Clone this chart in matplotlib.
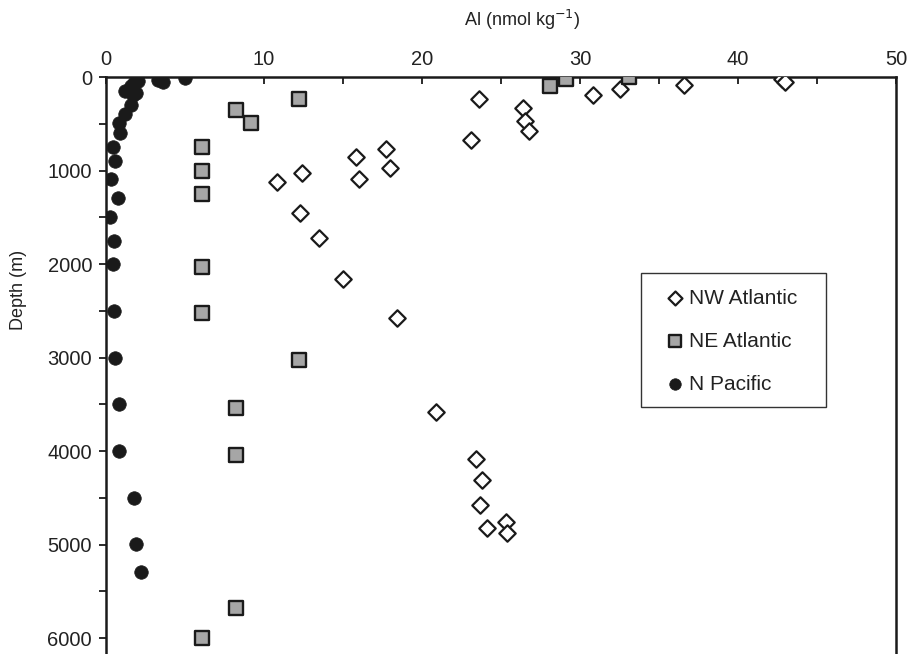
import matplotlib.pyplot as plt
import numpy as np
from matplotlib.patches import Rectangle

plt.rcParams['font.family'] = ['Liberation Sans', 'DejaVu Sans']

# NW Atlantic (open diamonds)
nw_al = [42.8, 43.0, 36.6, 32.5, 30.8, 23.6, 26.4, 26.5, 26.8, 23.1, 17.7,
         15.8, 18.0, 16.0, 12.4, 10.8, 12.3, 13.5, 15.0, 18.4, 20.9, 23.4,
         23.8, 23.7, 24.1, 25.3, 25.4]
nw_depth = [21, 53, 86, 128, 193, 235, 332, 470, 578, 674, 770,
            856, 973, 1091, 1027, 1120, 1455, 1722, 2160, 2578, 3583, 4086,
            4310, 4578, 4823, 4760, 4877]

# NE Atlantic (grey squares)
ne_al = [33.1, 29.1, 28.1, 12.2, 8.2, 9.2, 6.1, 6.1, 6.1, 6.1, 6.1,
         12.2, 8.2, 8.2, 8.2, 6.1]
ne_depth = [5, 21, 96, 238, 353, 494, 746, 1005, 1251, 2032, 2524,
            3027, 3540, 4043, 5679, 6000]

# N Pacific (filled circles)
np_al = [5.0, 3.3, 3.6, 1.8, 2.0, 1.6, 1.2, 1.9, 1.7, 1.6, 1.2, 0.8, 0.9,
         0.45, 0.6, 0.3, 0.75, 0.25, 0.5, 0.45, 0.5, 0.6, 0.8, 0.8, 1.8,
         1.9, 2.2]
np_depth = [10, 30, 50, 64, 40, 100, 150, 170, 193, 300, 400, 494, 600,
            746, 900, 1090, 1290, 1497, 1750, 2000, 2500, 3005, 3500, 4000,
            4500, 4995, 5294]

fig = plt.figure(figsize=(9.11, 6.54), dpi=100)
ax = fig.add_axes([106/911, 0.0, 790/911, 577/654])

ax.scatter(nw_al, nw_depth, marker='D', s=70, facecolor='white',
           edgecolor='#1a1a1a', linewidth=1.6, label='NW Atlantic', zorder=3)
ax.scatter(ne_al, ne_depth, marker='s', s=100, facecolor='#a6a6a6',
           edgecolor='#1a1a1a', linewidth=1.7, label='NE Atlantic', zorder=3)
ax.scatter(np_al, np_depth, marker='o', s=95, facecolor='#1a1a1a',
           edgecolor='#1a1a1a', linewidth=0.5, label='N Pacific', zorder=4)

ax.set_xlim(0, 50)
ax.set_ylim(6170, 0)

ax.xaxis.tick_top()
ax.xaxis.set_label_position('top')
ax.set_xticks(np.arange(0, 51, 10))
ax.set_xticks(np.arange(5, 50, 10), minor=True)
ax.tick_params(axis='x', which='both', direction='in', length=5, width=1.3,
               labelsize=14.5, pad=6, colors='#1a1a1a', labelcolor='#222222')
ax.set_yticks(np.arange(0, 6001, 1000))
ax.set_yticks(np.arange(500, 6001, 1000), minor=True)
ax.tick_params(axis='y', which='both', direction='out', length=5, width=1.3,
               labelsize=14.5, pad=5, colors='#1a1a1a', labelcolor='#222222')

for side in ['top', 'left', 'right']:
    ax.spines[side].set_linewidth(1.8)
    ax.spines[side].set_color('#1a1a1a')
ax.spines['bottom'].set_visible(False)

ax.set_xlabel('Al (nmol kg$^{-1}$)', fontsize=13, color='#222222')
ax.xaxis.set_label_coords(0.527, 1.088)
ax.set_ylabel('Depth (m)', fontsize=13, color='#222222')
ax.yaxis.set_label_coords(-0.100, 0.631)

# legend box (Excel-style, wider than its contents)
ax.add_patch(Rectangle((0.677, 0.428), 0.234, 0.232, transform=ax.transAxes,
                       facecolor='white', edgecolor='#333333', linewidth=1.0,
                       zorder=5))
leg = ax.legend(loc='upper left', bbox_to_anchor=(0.688, 0.658),
                borderaxespad=0, fontsize=15, labelspacing=1.15,
                handletextpad=0.2, borderpad=0.7, frameon=False,
                markerscale=0.85, handlelength=1.0)
leg.set_zorder(6)
for t in leg.get_texts():
    t.set_color('#222222')

fig.savefig('out.png', dpi=100)
